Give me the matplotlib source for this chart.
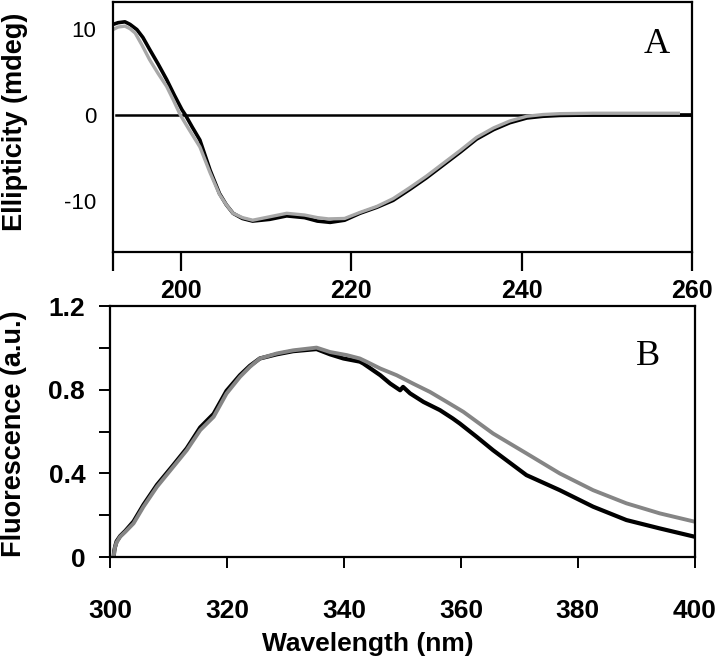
import matplotlib
matplotlib.use('Agg')
import matplotlib.pyplot as plt
import numpy as np

plt.rcParams['font.family'] = ['Liberation Sans', 'DejaVu Sans']

# Panel A: CD spectra (wavelength nm, ellipticity mdeg)
cd_wl_black = [192.0, 192.6, 193.4, 194.0, 194.8, 195.5, 196.3, 197.3, 198.3, 199.2,
               200.1, 200.5, 201.3, 202.2, 203.4, 204.5, 205.3, 206.1, 207.2, 208.4,
               210.4, 212.4, 214.5, 216.0, 217.5, 219.2, 221.0, 223.0, 224.9, 226.9,
               228.8, 230.8, 232.8, 234.7, 236.7, 238.6, 240.6, 242.5, 244.5, 248.4,
               252.7, 256.0, 260.0]
cd_black = [10.5, 10.7, 10.8, 10.5, 9.9, 9.0, 7.6, 5.9, 4.1, 2.3,
            0.6, 0.0, -1.4, -2.9, -6.4, -9.1, -10.4, -11.4, -12.0, -12.3,
            -12.1, -11.7, -11.9, -12.3, -12.45, -12.2, -11.4, -10.7, -9.9, -8.6,
            -7.3, -5.8, -4.3, -2.8, -1.7, -0.9, -0.35, -0.15, -0.05, 0.0,
            0.0, 0.0, 0.0]

cd_wl_gray = [192.0, 192.6, 193.4, 194.0, 194.6, 195.4, 196.3, 197.3, 198.3, 199.1,
              199.9, 201.0, 202.2, 203.4, 204.5, 205.3, 206.1, 207.2, 208.4, 210.4,
              212.4, 214.5, 216.0, 217.3, 219.2, 221.0, 223.0, 224.9, 226.9, 228.8,
              230.8, 232.8, 234.7, 236.7, 238.6, 240.6, 242.5, 244.5, 248.4, 252.7,
              258.6]
cd_gray = [9.9, 10.2, 10.3, 10.0, 9.5, 8.1, 6.4, 4.8, 3.3, 1.7,
           0.0, -1.8, -3.7, -6.7, -9.2, -10.4, -11.4, -11.9, -12.2, -11.8,
           -11.4, -11.6, -11.9, -12.05, -12.0, -11.3, -10.6, -9.7, -8.4, -7.1,
           -5.6, -4.1, -2.6, -1.5, -0.7, -0.15, 0.05, 0.15, 0.2, 0.2,
           0.2]

# Panel B: fluorescence emission spectra (normalised)
fl_wl_black = [300.6, 300.7, 300.85, 301.1, 301.7, 302.6, 304.0, 305.7, 308.0, 310.8,
               313.1, 315.4, 317.7, 319.9, 322.2, 323.9, 325.6, 328.5, 331.3, 335.3,
               337.6, 339.9, 342.7, 343.3, 346.2, 347.9, 349.6, 350.1, 351.3, 353.6,
               356.4, 358.6, 359.8, 362.7, 365.5, 371.2, 376.9, 382.6, 388.3, 394.0,
               400.0]
fl_black = [0.0, 0.03, 0.05, 0.075, 0.10, 0.125, 0.17, 0.25, 0.345, 0.44,
            0.52, 0.62, 0.685, 0.795, 0.87, 0.915, 0.95, 0.97, 0.985, 0.995,
            0.97, 0.95, 0.935, 0.926, 0.870, 0.830, 0.798, 0.814, 0.783, 0.742,
            0.703, 0.663, 0.639, 0.575, 0.511, 0.392, 0.320, 0.241, 0.177, 0.137,
            0.097]

fl_wl_gray = [300.6, 300.7, 300.85, 301.1, 301.7, 302.6, 304.0, 305.7, 308.0, 310.8,
              313.1, 315.4, 317.7, 319.9, 322.2, 323.9, 325.6, 328.5, 331.3, 335.3,
              337.6, 340.5, 342.7, 343.9, 346.2, 349.0, 351.8, 354.7, 357.6, 360.4,
              365.5, 371.2, 376.9, 382.6, 388.3, 394.0, 400.0]
fl_gray = [0.0, 0.025, 0.049, 0.07, 0.097, 0.121, 0.161, 0.241, 0.336, 0.432,
           0.511, 0.607, 0.671, 0.782, 0.862, 0.910, 0.950, 0.974, 0.989, 1.002,
           0.981, 0.966, 0.950, 0.934, 0.902, 0.870, 0.830, 0.790, 0.742, 0.695,
           0.591, 0.496, 0.400, 0.320, 0.257, 0.209, 0.169]

fig = plt.figure(figsize=(7.2, 6.6), dpi=100)
axA = fig.add_axes([0.157, 0.618, 0.804, 0.379])
axB = fig.add_axes([0.153, 0.156, 0.812, 0.380])

for ax in (axA, axB):
    for s in ax.spines.values():
        s.set_linewidth(1.6)

# ---- panel A
axA.axhline(0, color='black', lw=1.8, xmin=0.005)
axA.plot(cd_wl_black, cd_black, color='black', lw=2.6, solid_capstyle='butt')
axA.plot(cd_wl_gray, cd_gray, color='#a8a8a8', lw=2.4, solid_capstyle='butt')
axA.set_xlim(192, 260)
axA.set_ylim(-15.9, 13.1)
axA.set_xticks([192, 200, 220, 240, 260])
axA.set_xticklabels(['', '200', '220', '240', '260'], fontsize=18, fontweight='bold')
axA.set_yticks([-10, 0, 10])
axA.set_yticklabels(['-10', '0', '10'], fontsize=16)
axA.tick_params(axis='x', direction='out', length=14, width=1.6, pad=5)
axA.tick_params(axis='y', length=0, pad=12)
axA.set_ylabel('Ellipticity (mdeg)', fontsize=19.5, fontweight='bold')
axA.yaxis.set_label_coords(-0.147, 0.52)
axA.text(0.94, 0.83, 'A', transform=axA.transAxes, ha='center', va='center',
         fontsize=26, family='Liberation Serif')

# ---- panel B
axB.plot(fl_wl_black, fl_black, color='black', lw=3.0, solid_capstyle='butt')
axB.plot(fl_wl_gray, fl_gray, color='#858585', lw=2.8, solid_capstyle='butt')
axB.set_xlim(300, 400)
axB.set_ylim(0, 1.2)
axB.set_xticks([300, 320, 340, 360, 380, 400])
axB.set_xticklabels(['300', '320', '340', '360', '380', '400'], fontsize=19, fontweight='bold')
axB.set_yticks([0, 0.4, 0.8, 1.2])
axB.set_yticklabels(['0', '0.4', '0.8', '1.2'], fontsize=19, fontweight='bold')
axB.set_yticks([0.2, 0.6, 1.0], minor=True)
axB.tick_params(axis='x', direction='out', length=8, width=1.4, pad=22)
axB.tick_params(axis='y', which='both', direction='out', length=8, width=1.4, pad=10)
axB.set_ylabel('Fluorescence (a.u.)', fontsize=19.5, fontweight='bold')
axB.yaxis.set_label_coords(-0.143, 0.49)
axB.set_xlabel('Wavelength (nm)', fontsize=19, fontweight='bold')
axB.xaxis.set_label_coords(0.44, -0.30)
axB.text(0.92, 0.80, 'B', transform=axB.transAxes, ha='center', va='center',
         fontsize=26, family='Liberation Serif')

fig.savefig('out.png', dpi=100)
